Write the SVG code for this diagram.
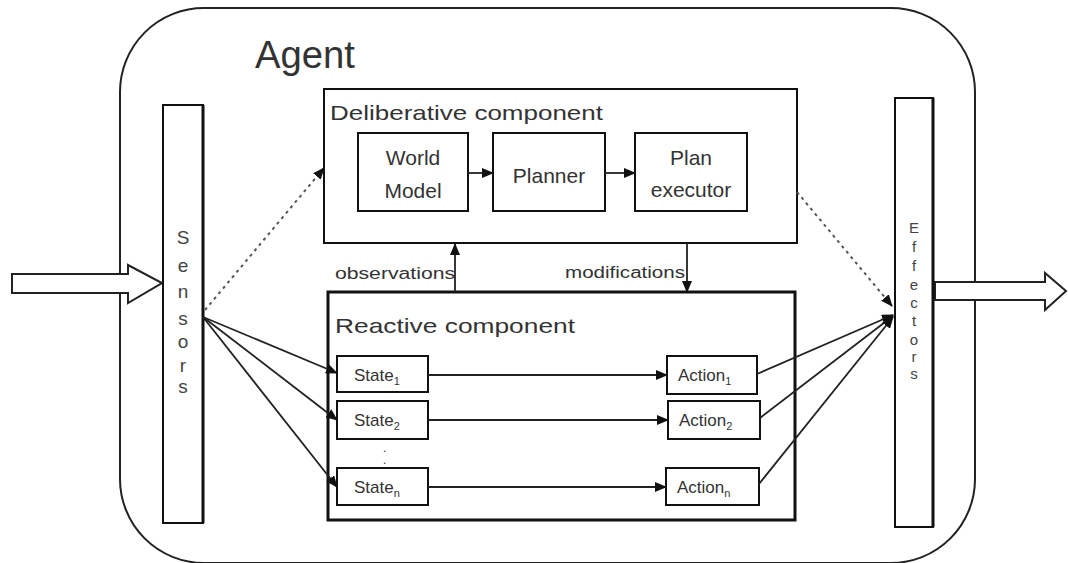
<svg xmlns="http://www.w3.org/2000/svg" width="1068" height="563" viewBox="0 0 1068 563">
<style>
.box{fill:#fff;stroke:#111;stroke-width:2}
.t{font-family:"Liberation Sans",Arial,sans-serif;fill:#333}
.lbl{font-size:21px}
.sm{font-size:17px}
.v{font-size:19px;text-anchor:middle;fill:#444}
.ve{font-size:15px;text-anchor:middle;fill:#444}
.ln{stroke:#222;stroke-width:1.8;fill:none}
.dot{stroke:#555;stroke-width:2;fill:none;stroke-dasharray:3,4}
</style>
<defs>
<marker id="ah" markerUnits="userSpaceOnUse" markerWidth="12" markerHeight="10" refX="11" refY="5" orient="auto">
<path d="M0,0 L12,5 L0,10 Z" fill="#111"/>
</marker>
</defs>
<rect width="1068" height="563" fill="#fff"/>
<g id="agent">
<rect x="120" y="8" width="855" height="555" rx="84" ry="84" fill="none" stroke="#222" stroke-width="2"/>
<text class="t" x="255" y="68" font-size="38" fill="#333" textLength="100" lengthAdjust="spacingAndGlyphs">Agent</text>
</g>
<g id="input-arrow">
<path d="M12,274 L128,274 L128,265 L162,283 L128,303 L128,293 L12,293 Z" fill="#fff" stroke="#222" stroke-width="2"/>
</g>
<g id="output-arrow">
<path d="M935,282 L1045,282 L1045,273 L1066,291 L1045,310 L1045,300 L935,300 Z" fill="#fff" stroke="#222" stroke-width="2"/>
</g>
<g id="sensors">
<rect class="box" x="163" y="105" width="40" height="418"/>
<line x1="203" y1="105" x2="203" y2="523" stroke="#111" stroke-width="3"/>
<text class="t v" x="183" y="244">S</text>
<text class="t v" x="183" y="272">e</text>
<text class="t v" x="183" y="298">n</text>
<text class="t v" x="183" y="325">s</text>
<text class="t v" x="183" y="348">o</text>
<text class="t v" x="183" y="372">r</text>
<text class="t v" x="183" y="393">s</text>
</g>
<g id="effectors">
<rect class="box" x="895" y="98" width="38" height="429"/>
<line x1="933" y1="98" x2="933" y2="527" stroke="#111" stroke-width="3"/>
<text class="t ve" x="914" y="233">E</text>
<text class="t ve" x="914" y="252">f</text>
<text class="t ve" x="914" y="271">f</text>
<text class="t ve" x="914" y="290">e</text>
<text class="t ve" x="914" y="308">c</text>
<text class="t ve" x="914" y="326">t</text>
<text class="t ve" x="914" y="345">o</text>
<text class="t ve" x="914" y="362">r</text>
<text class="t ve" x="914" y="379">s</text>
</g>
<g id="deliberative">
<rect class="box" x="324" y="89" width="473" height="154"/>
<text class="t lbl" x="330" y="120" textLength="273" lengthAdjust="spacingAndGlyphs">Deliberative component</text>
</g>
<g id="world-model">
<rect class="box" x="358" y="133" width="110" height="78"/>
<text class="t lbl" x="413" y="165" text-anchor="middle">World</text>
<text class="t lbl" x="413" y="198" text-anchor="middle">Model</text>
</g>
<g id="planner">
<rect class="box" x="493" y="133" width="112" height="78"/>
<text class="t lbl" x="549" y="183" text-anchor="middle">Planner</text>
</g>
<g id="plan-executor">
<rect class="box" x="635" y="133" width="112" height="78"/>
<text class="t lbl" x="691" y="165" text-anchor="middle">Plan</text>
<text class="t lbl" x="691" y="197" text-anchor="middle">executor</text>
</g>
<g id="reactive">
<rect x="328" y="292" width="467" height="228" fill="#fff" stroke="#111" stroke-width="3"/>
<text class="t lbl" x="335" y="333" textLength="240" lengthAdjust="spacingAndGlyphs">Reactive component</text>
<text class="t" x="383" y="452" font-size="12" fill="#888">.</text>
<text class="t" x="383" y="464" font-size="12" fill="#888">.</text>
</g>
<g id="state1">
<rect class="box" x="337" y="356" width="91" height="36"/>
<text class="t sm" x="354" y="381">State<tspan font-size="11" dy="4">1</tspan></text>
</g>
<g id="state2">
<rect class="box" x="337" y="401" width="91" height="38"/>
<text class="t sm" x="354" y="426">State<tspan font-size="11" dy="4">2</tspan></text>
</g>
<g id="staten">
<rect class="box" x="337" y="468" width="91" height="37"/>
<text class="t sm" x="354" y="493">State<tspan font-size="11" dy="4">n</tspan></text>
</g>
<g id="action1">
<rect class="box" x="667" y="356" width="90" height="38"/>
<text class="t sm" x="678" y="381">Action<tspan font-size="11" dy="4">1</tspan></text>
</g>
<g id="action2">
<rect class="box" x="668" y="401" width="92" height="38"/>
<text class="t sm" x="679" y="426">Action<tspan font-size="11" dy="4">2</tspan></text>
</g>
<g id="actionn">
<rect class="box" x="666" y="468" width="93" height="37"/>
<text class="t sm" x="677" y="493">Action<tspan font-size="11" dy="4">n</tspan></text>
</g>
<g id="connectors">
<line class="ln" x1="468" y1="173" x2="493" y2="173" marker-end="url(#ah)"/>
<line class="ln" x1="605" y1="173" x2="635" y2="173" marker-end="url(#ah)"/>
<line class="ln" x1="455" y1="292" x2="455" y2="244" marker-end="url(#ah)"/>
<line class="ln" x1="687" y1="243" x2="687" y2="292" marker-end="url(#ah)"/>
<line class="dot" x1="205" y1="310" x2="324" y2="168" marker-end="url(#ah)"/>
<line class="dot" x1="797" y1="192" x2="892" y2="306" marker-end="url(#ah)"/>
<line class="ln" x1="203" y1="317" x2="337" y2="373" marker-end="url(#ah)"/>
<line class="ln" x1="203" y1="317" x2="337" y2="420" marker-end="url(#ah)"/>
<line class="ln" x1="203" y1="317" x2="337" y2="487" marker-end="url(#ah)"/>
<line class="ln" x1="428" y1="375" x2="667" y2="375" marker-end="url(#ah)"/>
<line class="ln" x1="428" y1="420" x2="668" y2="420" marker-end="url(#ah)"/>
<line class="ln" x1="428" y1="487" x2="666" y2="487" marker-end="url(#ah)"/>
<line class="ln" x1="757" y1="374" x2="893" y2="315" marker-end="url(#ah)"/>
<line class="ln" x1="760" y1="418" x2="893" y2="316" marker-end="url(#ah)"/>
<line class="ln" x1="759" y1="484" x2="893" y2="317" marker-end="url(#ah)"/>
<text class="t" x="455" y="279" font-size="16" fill="#777" text-anchor="end" textLength="120" lengthAdjust="spacingAndGlyphs">observations</text>
<text class="t" x="565" y="278" font-size="16" fill="#444" textLength="120" lengthAdjust="spacingAndGlyphs">modifications</text>
</g>
</svg>
